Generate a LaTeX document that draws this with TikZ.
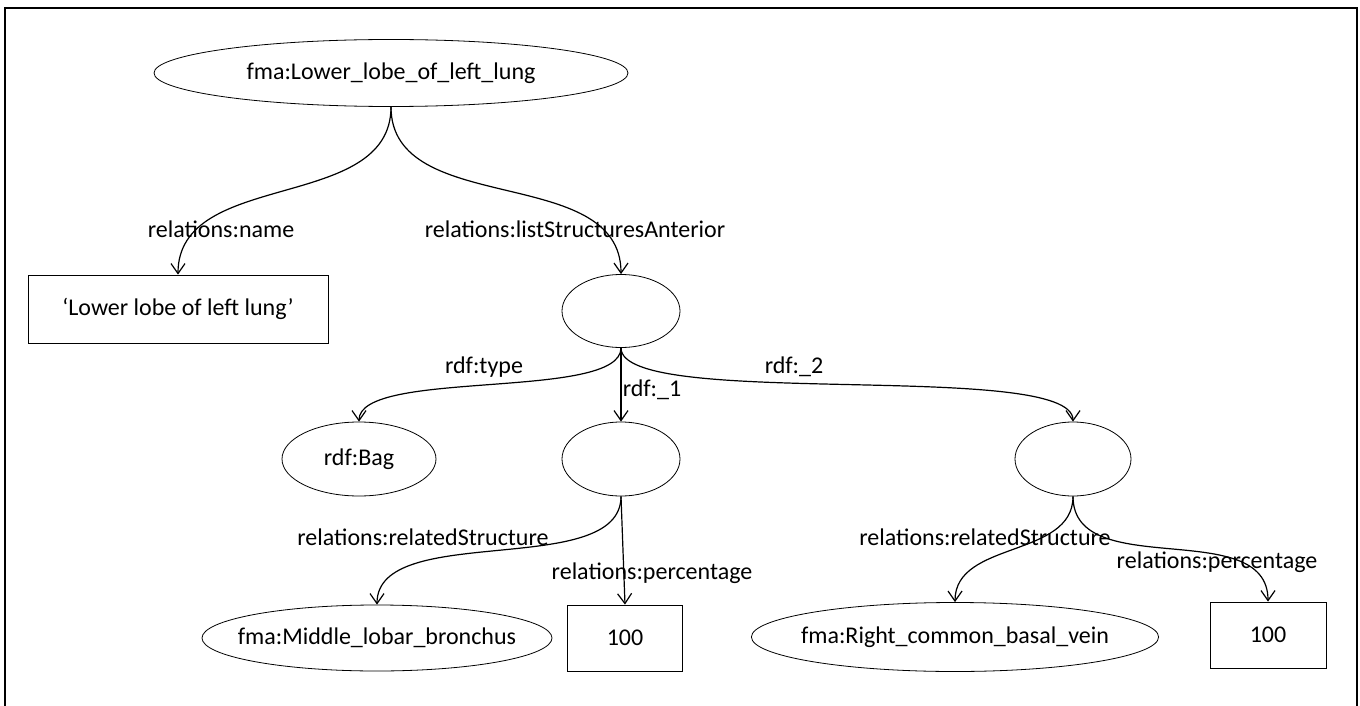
\documentclass[tikz,border=0pt]{standalone}
\usepackage{fontspec}
\setmainfont{Carlito}
\usetikzlibrary{shapes.geometric,arrows.meta}

\begin{document}
\begin{tikzpicture}[x=0.5pt,y=-0.5pt]
	% Define node styles
	\tikzstyle{res} = [ellipse, draw, inner sep=0pt, font=\fontsize{12}{14}\selectfont];
	\tikzstyle{lit} = [rectangle, draw, inner sep=0pt, font=\fontsize{12}{14}\selectfont];
	\tikzstyle{prop} = [inner sep=0pt, font=\fontsize{12}{14}\selectfont];
	\tikzstyle{link} = [-{Straight Barb[length=5pt,width=7pt]}, line width=0.6pt];
	
	\useasboundingbox (0,0) rectangle (1360,706);
	\draw[line width=0.8pt] (5,706) |- (1357,8) -- (1357,706);
	
	% Subject
	\node[res, minimum width=237pt, minimum height=33.5pt] (root) at (391,73) {fma:Lower\_lobe\_of\_left\_lung};
	\node[lit, minimum width=150pt, minimum height=34pt] (name) at (178,309) {‘Lower lobe of left lung’};
	\node[res, minimum width=59pt, minimum height=36.5pt] (bag) at (621,311) {};
	
	% Bag members
	\node[res, minimum width=77pt, minimum height=37pt] (bagtype) at (359,459) {rdf:Bag};
	\node[res, minimum width=59pt, minimum height=37pt] (item1) at (621,459) {};
	\node[res, minimum width=58pt, minimum height=37pt] (item2) at (1073,459) {};
	
	% Structures and percentages
	\node[res, inner xsep=-13pt, minimum width=175pt, minimum height=33pt] (struct1) at (377,638) {fma:Middle\_lobar\_bronchus};
	\node[lit, minimum width=57.5pt, minimum height=33pt] (pct1) at (625,638) {100};
	\node[res, inner xsep=-5pt, minimum width=203.5pt, minimum height=34.5pt] (struct2) at (955,637) {fma:Right\_common\_basal\_vein};
	\node[lit, minimum width=58pt, minimum height=33pt] (pct2) at (1268,635) {100};
	
	% Property labels
	\node[prop] (pname) at (221,229) {relations:name};
	\node[prop] (plist) at (575,229) {relations:listStructuresAnterior};
	\node[prop] (ptype) at (484,367) {rdf:type};
	\node[prop] (pone) at (652,390) {rdf:\_1};
	\node[prop] (ptwo) at (794,367) {rdf:\_2};
	\node[prop] (prel1) at (423,537) {relations:relatedStructure};
	\node[prop] (pper1) at (652,573) {relations:percentage};
	\node[prop] (prel2) at (985,537) {relations:relatedStructure};
	\node[prop] (pper2) at (1217,562) {relations:percentage};
	
	% Connections
	\draw[link] (root.south) to[out=-90, in=90] (name.north);
	\draw[link] (root.south) to[out=-90, in=90] (bag.north);
	\draw[link] (bag.south) to[out=-90, in=90, looseness=0.5] (bagtype.north);
	\draw[link] (bag.south) -- (item1.north);
	\draw[link] (bag.south) to[out=-90, in=90, looseness=0.35] (item2.north);
	\draw[link] (item1.south) to[out=-90, in=90, looseness=0.8] (struct1.north);
	\draw[link] (item1.south) -- (pct1.north);
	\draw[link] (item2.south) to[out=-90, in=90] (struct2.north);
	\draw[link] (item2.south) to[out=-90, in=90] (pct2.north);
\end{tikzpicture}
\end{document}
